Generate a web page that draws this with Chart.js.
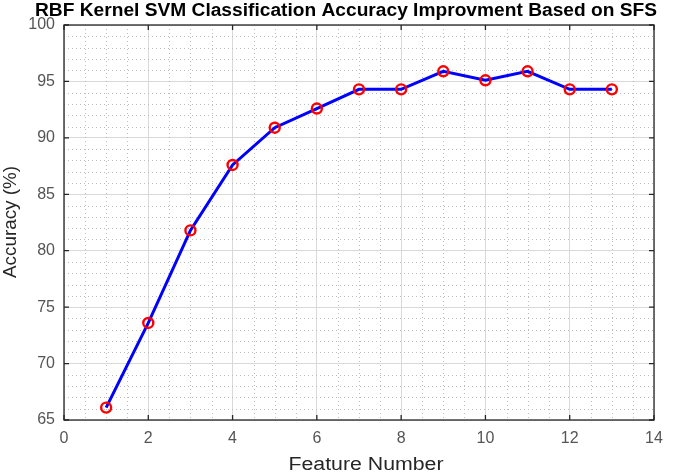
<!DOCTYPE html>
<html><head><meta charset="utf-8">
<script src="https://cdn.jsdelivr.net/npm/chart.js@4/dist/chart.umd.min.js"></script>
<style>html,body{margin:0;padding:0;background:#fff;overflow:hidden}canvas{display:block}</style>
</head><body><canvas id="c" width="685" height="476" style="width:685px;height:476px"></canvas>
<script>
const featureNumbers = [1,2,3,4,5,6,7,8,9,10,11,12,13];
const accuracy = [66.1,73.6,81.8,87.6,90.9,92.6,94.3,94.3,95.9,95.1,95.9,94.3,94.3];
const xTicks = [0,2,4,6,8,10,12,14];
const yTicks = [65,70,75,80,85,90,95,100];
const titleText = 'RBF Kernel SVM Classification Accuracy Improvment Based on SFS';
const xTitle = 'Feature Number';
const yTitle = 'Accuracy (%)';
const FONT = '"Liberation Sans", Arial, sans-serif';

function stretchedText(ctx, text, cx, cy, font, targetWidth, rot) {
  ctx.save();
  ctx.font = font;
  const w = ctx.measureText(text).width;
  ctx.translate(cx, cy);
  if (rot) ctx.rotate(rot);
  ctx.scale(targetWidth / w, 1);
  ctx.textAlign = 'center'; ctx.textBaseline = 'middle';
  ctx.fillText(text, 0, 0);
  ctx.restore();
}

const framePlugin = {
  id:'frame',
  beforeDatasetsDraw(chart){
    const ctx = chart.ctx, a = chart.chartArea, x = chart.scales.x, y = chart.scales.y;
    ctx.save();
    ctx.strokeStyle = '#bdbdbd'; ctx.lineWidth = 1; ctx.setLineDash([1,3]);
    for (let v = 0.5; v < 14; v += 0.5) {
      if (v % 2 === 0) continue;
      const px = Math.round(x.getPixelForValue(v)) + 0.5;
      ctx.beginPath(); ctx.moveTo(px, a.top); ctx.lineTo(px, a.bottom); ctx.stroke();
    }
    for (let v = 66; v < 100; v += 1) {
      if (v % 5 === 0) continue;
      const py = Math.round(y.getPixelForValue(v)) + 0.5;
      ctx.beginPath(); ctx.moveTo(a.left, py); ctx.lineTo(a.right, py); ctx.stroke();
    }
    ctx.restore();
  },
  afterDraw(chart){
    const ctx = chart.ctx, a = chart.chartArea, x = chart.scales.x, y = chart.scales.y;
    ctx.save();
    ctx.strokeStyle = '#262626'; ctx.lineWidth = 1.3; ctx.setLineDash([]);
    ctx.strokeRect(a.left, a.top, a.right - a.left, a.bottom - a.top);
    const L = 5;
    ctx.beginPath();
    xTicks.forEach(v => {
      const px = x.getPixelForValue(v);
      ctx.moveTo(px, a.bottom); ctx.lineTo(px, a.bottom - L);
      ctx.moveTo(px, a.top); ctx.lineTo(px, a.top + L);
    });
    yTicks.forEach(v => {
      const py = y.getPixelForValue(v);
      ctx.moveTo(a.left, py); ctx.lineTo(a.left + L, py);
      ctx.moveTo(a.right, py); ctx.lineTo(a.right - L, py);
    });
    ctx.stroke();
    ctx.fillStyle = '#000';
    stretchedText(ctx, titleText, 346, 11, 'bold 18px ' + FONT, 622, 0);
    ctx.fillStyle = '#262626';
    stretchedText(ctx, xTitle, 366, 465, '18px ' + FONT, 155, 0);
    stretchedText(ctx, yTitle, 11, 222, '18px ' + FONT, 112, -Math.PI / 2);
    ctx.restore();
  }
};

new Chart(document.getElementById('c'), {
  type:'line',
  data:{ datasets:[{
    data: featureNumbers.map((f,i)=>({x:f, y:accuracy[i]})),
    borderColor:'#0000ff', borderWidth:3, tension:0,
    pointStyle:'circle', pointRadius:5, pointBorderWidth:2.4,
    pointBorderColor:'#ff0000', pointBackgroundColor:'rgba(0,0,0,0)'
  }]},
  options:{
    responsive:false, animation:false, devicePixelRatio:1,
    layout:{padding:{left:0,right:31,top:25,bottom:0}},
    plugins:{legend:{display:false}, tooltip:{enabled:false}, title:{display:false}},
    scales:{
      x:{ type:'linear', min:0, max:14,
        afterBuildTicks(s){ s.ticks = xTicks.map(v=>({value:v})); },
        afterFit(s){ s.height = 56; },
        ticks:{ color:'#555555', font:{family:FONT, size:16}, padding:9, maxRotation:0 },
        grid:{ color:'#d9d9d9', lineWidth:1, drawTicks:false },
        border:{ display:false }
      },
      y:{ type:'linear', min:65, max:100,
        afterBuildTicks(s){ s.ticks = yTicks.map(v=>({value:v})); },
        afterFit(s){ s.width = 64; },
        ticks:{ color:'#555555', font:{family:FONT, size:16}, padding:9 },
        grid:{ color:'#d9d9d9', lineWidth:1, drawTicks:false },
        border:{ display:false }
      }
    }
  },
  plugins:[framePlugin]
});
</script></body></html>
